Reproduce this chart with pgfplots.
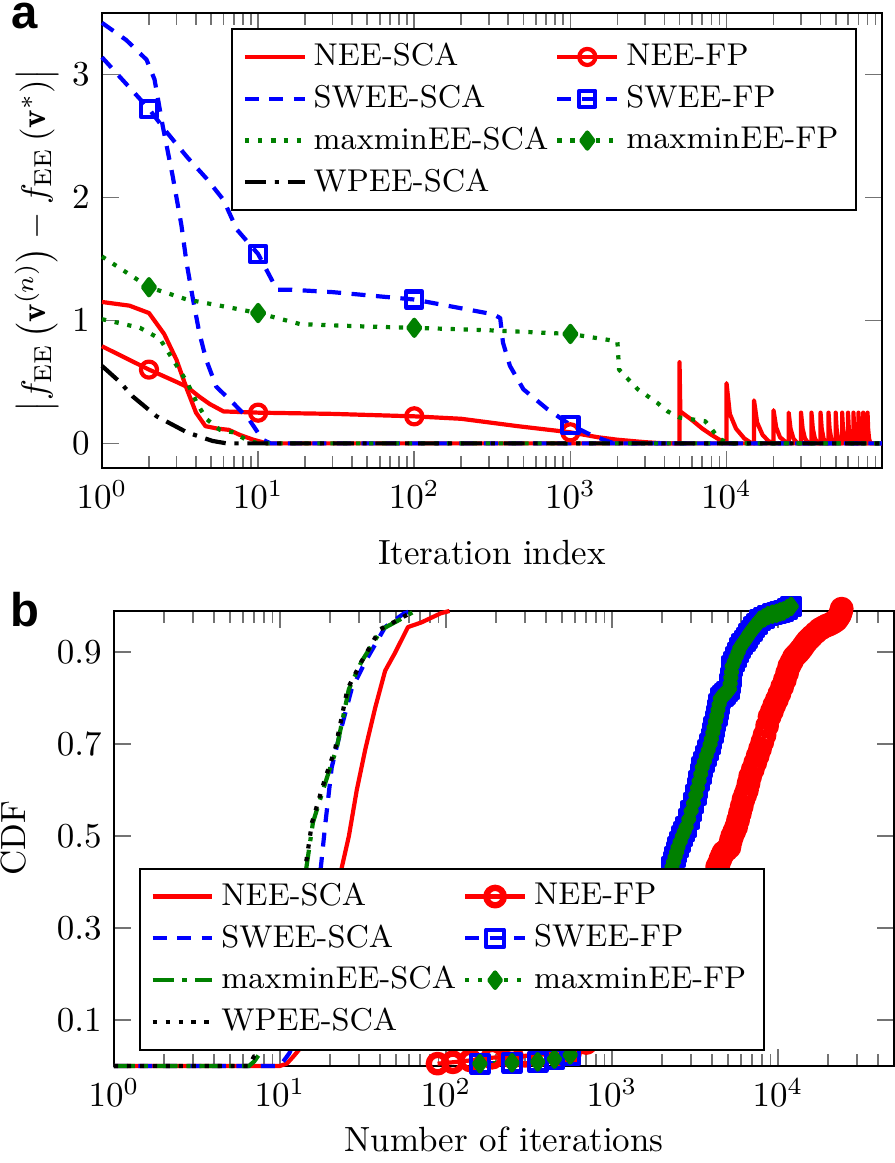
\documentclass[border=0pt]{standalone}
\usepackage{pgfplots}
\pgfplotsset{compat=1.18}
\usepackage{fontspec}
\newfontfamily\panelfont{Liberation Sans}

\definecolor{dgreen}{RGB}{0,128,0}

\tikzset{
  pdash/.style={dash pattern=on 4pt off 3pt},
  pdot/.style={dash pattern=on 1.2pt off 2.5pt},
  pdashdot/.style={dash pattern=on 6pt off 2.5pt on 1.2pt off 2.5pt},
}

\pgfplotsset{
  mypanel/.style={
    scale only axis, width=222.86pt, height=130pt,
    clip=false,
    axis line style={line width=0.6pt},
    tick style={black!55, line width=0.5pt},
    major tick length=4.9pt, minor tick length=3.4pt,
    legend columns=2, legend cell align=left,
    legend style={font=\small, draw=black, line width=0.6pt, fill=white},
  },
  every axis plot/.append style={line width=1.2pt, line join=round},
}

% CDF of the FP runs (panel b)
\pgfplotstableread{
x y
160 0.005
250 0.007
357 0.009
450 0.015
560 0.024
800 0.06
1200 0.13
1600 0.22
2000 0.33
2300 0.433
2350 0.444
2400 0.455
2450 0.465
2500 0.476
2575 0.488
2650 0.50
2725 0.51
2800 0.52
2900 0.537
3000 0.555
3100 0.572
3200 0.59
3275 0.605
3350 0.62
3425 0.635
3500 0.65
3600 0.662
3700 0.675
3800 0.687
3900 0.70
3975 0.712
4050 0.725
4125 0.737
4200 0.75
4275 0.762
4350 0.775
4425 0.787
4500 0.80
4650 0.805
4800 0.81
4950 0.815
5100 0.82
5150 0.832
5200 0.845
5250 0.857
5300 0.87
5450 0.88
5600 0.89
5750 0.90
5900 0.91
6100 0.918
6300 0.925
6500 0.932
6700 0.94
6950 0.947
7200 0.955
7500 0.962
7800 0.97
8250 0.975
8700 0.98
9250 0.983
9800 0.985
10300 0.988
10800 0.99
11400 0.995
12000 1.0
}\sweefp

\pgfplotstableread{
x y
89 0.005
110 0.008
140 0.012
190 0.018
250 0.02
300 0.022
380 0.025
480 0.025
560 0.03
700 0.05
1000 0.08
1500 0.13
2000 0.2
2600 0.27
3200 0.33
3800 0.4
4300 0.433
4400 0.44
4500 0.45
4600 0.458
4700 0.465
4900 0.47
5100 0.476
5200 0.49
5300 0.50
5450 0.51
5600 0.52
5750 0.535
5900 0.55
6050 0.565
6200 0.58
6350 0.59
6500 0.60
6650 0.615
6800 0.63
7050 0.645
7300 0.66
7550 0.675
7800 0.69
8050 0.705
8300 0.72
8600 0.74
8900 0.76
9200 0.772
9500 0.785
9850 0.797
10200 0.81
10600 0.825
11000 0.84
11350 0.855
11700 0.87
12100 0.88
12500 0.89
12900 0.895
13300 0.90
13650 0.905
14000 0.91
14500 0.918
15000 0.925
15500 0.93
16000 0.935
16900 0.943
17800 0.95
18600 0.954
19500 0.958
20200 0.96
21000 0.963
21700 0.966
22500 0.97
23000 0.975
23500 0.98
23800 0.985
24000 0.99
24200 0.995
}\neefp

\begin{document}
\begin{tikzpicture}
\useasboundingbox (0,0) rectangle (255.71pt,-332.29pt);

\node[anchor=base west, inner sep=0pt] at (3.0pt,-8.0pt) {\panelfont\bfseries\fontsize{13.5}{15}\selectfont a};
\node[anchor=base west, inner sep=0pt] at (2.8pt,-179.1pt) {\panelfont\bfseries\fontsize{13.5}{15}\selectfont b};

% ---------- panel a ----------
\begin{semilogxaxis}[mypanel, at={(29.14pt,-3.71pt)}, anchor=north west,
  xmin=1, xmax=99000, ymin=-0.2, ymax=3.5, ytick={0,1,2,3},
  xlabel={Iteration index},
  xlabel style={at={(axis description cs:0.5,0)}, anchor=base, yshift=-27.6pt},
  ylabel={$\left|f_{\mathrm{EE}}\left(\mathbf{v}^{(n)}\right)-f_{\mathrm{EE}}\left(\mathbf{v}^{*}\right)\right|$},
  ylabel style={at={(axis description cs:-0.072,0.5)}, anchor=base, inner sep=0pt},
  legend style={at={(0.968,0.967)}, anchor=north east},
]
% NEE-SCA
\addplot[red] coordinates {
  (1,1.15) (1.5,1.12) (2,1.06) (2.5,0.89) (3,0.68) (3.5,0.44) (4,0.25)
  (4.6,0.14) (5.5,0.12) (6.5,0.11) (7.6,0.07) (9.3,0.03) (11.4,0) (99000,0)
};
% NEE-FP
\addplot[red, mark=o, mark size=2.3pt, mark indices={2,8,10,13}] coordinates {
  (1,0.79) (2,0.60) (3,0.50) (3.5,0.46) (4.2,0.38) (4.9,0.32) (6,0.26)
  (10,0.25) (30,0.24) (100,0.22) (200,0.20) (460,0.14) (1000,0.09)
  (1500,0.05) (2000,0.03) (3000,0.01) (4000,0)
  (5000,0) (5000,0.66) (5060,0.26) (6000,0.19) (7000,0.12) (8000,0.07) (9000,0.03) (10000,0.01)
  (10000,0.49) (10500,0.24) (11500,0.12) (13000,0.04) (14500,0) (15000,0)
  (15000,0.35) (15700,0.17) (17000,0.07) (18500,0.02) (20000,0)
  (20000,0.27) (20800,0.13) (22000,0.05) (24000,0.01) (25000,0)
  (25000,0.25) (25700,0.12) (26800,0.04) (28500,0) (30000,0)
  (30000,0.25) (30700,0.12) (31800,0.04) (33500,0) (35000,0)
  (35000,0.25) (35700,0.12) (36800,0.04) (38500,0) (40000,0)
  (40000,0.25) (40700,0.12) (41800,0.04) (43500,0) (45000,0)
  (45000,0.25) (45700,0.12) (46800,0.04) (48500,0) (50000,0)
  (50000,0.25) (50700,0.12) (51800,0.04) (53500,0) (55000,0)
  (55000,0.25) (55700,0.12) (56800,0.04) (58500,0) (60000,0)
  (60000,0.25) (60700,0.12) (61800,0.04) (63500,0) (65000,0)
  (65000,0.25) (65700,0.12) (66800,0.04) (68500,0) (70000,0)
  (70000,0.25) (70700,0.12) (71800,0.04) (73500,0) (75000,0)
  (75000,0.25) (75700,0.12) (76800,0.04) (78500,0) (80000,0)
  (80000,0.25) (80700,0.12) (81800,0.04) (83500,0) (99000,0)
};
% SWEE-SCA
\addplot[blue, pdash] coordinates {
  (1,3.42) (1.43,3.28) (1.93,3.12) (2.17,2.96) (2.45,2.58) (2.84,2.17)
  (3.23,1.77) (3.48,1.47) (3.83,1.17) (4.2,0.9) (4.65,0.68) (5.4,0.46)
  (6.9,0.33) (8.8,0.19) (10.7,0.03) (12,0) (99000,0)
};
% SWEE-FP
\addplot[blue, pdash, mark=square, mark size=2.3pt, mark options={solid}, mark indices={2,8,12,19}] coordinates {
  (1,3.14) (2,2.72) (2.6,2.53) (3.5,2.33) (4.7,2.15) (6,1.98) (7.3,1.74)
  (10,1.54) (13.2,1.25) (16,1.25) (30,1.23) (100,1.17) (320,1.05) (355,1.02)
  (370,0.82) (410,0.63) (500,0.44) (710,0.28) (1000,0.15) (1400,0.06)
  (1900,0) (99000,0)
};
% maxminEE-SCA
\addplot[dgreen, pdot] coordinates {
  (1,1.01) (1.75,0.94) (2.35,0.85) (2.85,0.68) (3.5,0.50) (4.05,0.33)
  (4.65,0.2) (5.7,0.11) (6.9,0.09) (8.4,0.03) (10,0) (99000,0)
};
% maxminEE-FP
\addplot[dgreen, pdot, mark=diamond*, mark size=2.3pt, mark options={solid, fill=dgreen}, mark indices={2,5,8,10}] coordinates {
  (1,1.52) (2,1.27) (3.5,1.17) (6.9,1.10) (10,1.06) (18.6,0.97) (50,0.95)
  (100,0.94) (300,0.92) (1000,0.89) (2000,0.83) (2050,0.60) (2700,0.44)
  (3600,0.33) (4200,0.26) (5000,0.21) (7300,0.18) (8000,0.12) (8900,0.04)
  (10400,0) (99000,0)
};
% WPEE-SCA
\addplot[black, pdashdot] coordinates {
  (1,0.63) (1.3,0.5) (1.58,0.38) (2.24,0.22) (3.5,0.09) (5.1,0.02) (6.3,0) (99000,0)
};
\legend{NEE-SCA, NEE-FP, SWEE-SCA, SWEE-FP, maxminEE-SCA, maxminEE-FP, WPEE-SCA}
\end{semilogxaxis}

% ---------- panel b ----------
\begin{semilogxaxis}[mypanel, at={(32.57pt,-174.57pt)}, anchor=north west,
  xmin=1, xmax=50000, ymin=0, ymax=0.99, ytick={0.1,0.3,0.5,0.7,0.9},
  xlabel={Number of iterations},
  xlabel style={at={(axis description cs:0.5,0)}, anchor=base, yshift=-24.4pt},
  ylabel={CDF},
  ylabel style={at={(axis description cs:-0.113,0.5)}, anchor=base, inner sep=0pt},
  legend style={at={(0.032,0.033)}, anchor=south west},
]
% NEE-SCA
\addplot[red] coordinates {
  (1,0) (10,0) (11,0.005) (12,0.02) (13,0.035) (16,0.1) (19,0.2) (21.5,0.32)
  (23.5,0.43) (26,0.5) (29,0.6) (32.7,0.69) (37.5,0.78) (43,0.86) (49.5,0.9)
  (59,0.955) (71,0.965) (93,0.985) (105,0.99)
};
% NEE-FP
\addplot[red, mark=o, mark size=2.5pt, mark options={line width=1.8pt}] table {\neefp};
% SWEE-SCA
\addplot[blue, pdash] coordinates {
  (1,0) (10,0) (11.4,0.028) (13,0.08) (15,0.2) (16.5,0.33) (17.6,0.43)
  (18.8,0.53) (20.5,0.65) (23.6,0.74) (27,0.82) (32.7,0.88) (43,0.955)
  (56,0.985) (62,0.99)
};
% SWEE-FP
\addplot[blue, pdash, mark=square, mark size=2.5pt, mark options={solid}] table {\sweefp};
% maxminEE-SCA
\addplot[dgreen, pdashdot] coordinates {
  (1,0) (6.5,0) (7,0.01) (8,0.04) (10,0.12) (12,0.25) (13.5,0.36) (14.4,0.43)
  (15.8,0.53) (18.9,0.62) (21.9,0.69) (26,0.82) (31,0.88) (41,0.95) (52,0.97) (65,0.99)
};
% maxminEE-FP
\addplot[dgreen, pdot, mark=diamond*, mark size=2.2pt, mark options={solid, fill=dgreen}] table {\sweefp};
% WPEE-SCA
\addplot[black, pdot] coordinates {
  (1,0) (6.5,0) (7.2,0.03) (8.5,0.08) (10,0.13) (12,0.26) (13.3,0.36) (14.2,0.43)
  (15.6,0.53) (18.5,0.62) (21.5,0.69) (25.5,0.82) (31,0.88) (40,0.95) (51,0.97) (64,0.99)
};
\legend{NEE-SCA, NEE-FP, SWEE-SCA, SWEE-FP, maxminEE-SCA, maxminEE-FP, WPEE-SCA}
\end{semilogxaxis}
\end{tikzpicture}
\end{document}
